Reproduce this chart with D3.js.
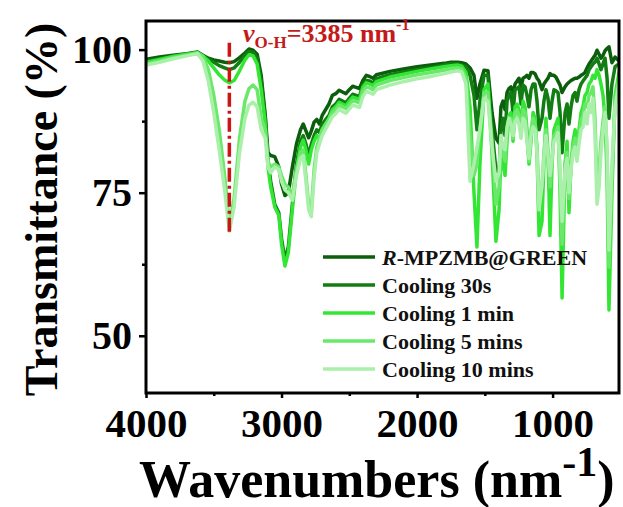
<!DOCTYPE html>
<html>
<head>
<meta charset="utf-8">
<script src="https://cdn.jsdelivr.net/npm/d3@7"></script>
<style>
  body { margin: 0; background: #fff; }
  svg { display: block; }
  text { font-family: "Liberation Serif", "Times New Roman", serif; font-weight: bold; }
</style>
</head>
<body>
<svg id="chart" width="623" height="507"></svg>
<script>
// FTIR spectra: shared wavenumber grid and transmittance (%) for each sample
const wavenumbers = [
  4000, 3900, 3800, 3700, 3620,
  3580, 3540, 3500, 3460, 3420, 3385, 3350, 3310, 3270, 3240, 3210, 3180, 3150,
  3120, 3100, 3080, 3050, 3020, 3000, 2975, 2950, 2920, 2890, 2860, 2840, 2820, 2800, 2780, 2760, 2740, 2720, 2700,
  2650, 2625, 2600, 2575, 2550, 2525, 2500, 2475, 2450, 2425, 2400, 2375, 2350, 2325, 2300, 2200, 2100, 2000, 1900, 1800, 1750, 1700, 1670,
  1639, 1609, 1580, 1558, 1536, 1506, 1477, 1447, 1418, 1395,
  1381, 1366, 1351, 1336, 1322, 1307, 1292, 1277, 1262, 1248, 1233, 1218, 1203, 1189, 1174, 1159, 1144, 1130, 1115, 1100,
  1078, 1064, 1049, 1034, 1019, 1004, 990, 975, 960, 945, 930, 908, 893, 879, 864, 849, 834, 820, 805, 790,
  776, 761, 746, 731, 716, 702, 687, 672, 657, 643, 628, 613, 598, 584, 562, 539, 510
];

const pristine = [
  98.3, 98.7, 99.0, 99.3, 99.6,
  99.0, 98.5, 98.2, 98.0, 97.8, 97.7, 97.9, 98.6, 99.4, 100.1, 99.9, 99.2, 95.5,
  88.5, 82.0, 81.5, 81.3, 79.5, 76.5, 74.5, 75.0, 79.5, 83.5, 86.0, 87.0, 85.8, 84.6, 85.8, 87.3, 87.8, 87.0, 88.5,
  90.5, 92.0, 92.3, 92.9, 92.6, 92.3, 93.0, 93.6, 93.4, 93.2, 94.6, 95.5, 95.3, 95.0, 95.6, 96.2, 96.6, 97.0, 97.3, 97.6, 97.8, 97.8, 97.7,
  97.5, 96.8, 95.5, 91.5, 94.0, 96.4, 96.3, 89.0, 84.5, 83.7,
  90.0, 91.0, 89.5, 92.5, 93.2, 93.5, 92.0, 94.0, 94.5, 95.0, 93.5, 95.0, 95.2, 95.5, 95.0, 96.0, 96.0, 95.8, 95.0, 94.5,
  93.0, 94.0, 94.5, 95.0, 95.8, 95.5, 95.5, 95.2, 94.5, 93.8, 92.5, 93.5, 94.0, 94.3, 94.6, 94.8, 95.0, 95.0, 95.2, 95.5,
  95.7, 96.0, 96.8, 97.5, 98.0, 98.5, 99.0, 99.9, 99.2, 98.5, 99.0, 99.8, 100.2, 100.5, 97.7, 98.7, 98.0
];

const cooling30s = [
  98.0, 98.4, 98.9, 99.2, 99.5,
  98.9, 98.3, 97.8, 97.2, 96.8, 96.5, 96.8, 97.8, 99.0, 99.7, 99.5, 98.5, 94.5,
  88.0, 80.5, 77.0, 73.0, 71.5, 67.0, 63.3, 65.5, 73.0, 80.0, 84.0, 85.0, 83.5, 81.5, 83.5, 85.0, 86.0, 85.5, 87.0,
  88.5, 90.0, 90.5, 91.3, 91.0, 90.7, 91.5, 92.2, 92.0, 91.8, 93.8, 94.6, 94.5, 94.2, 94.9, 95.6, 96.1, 96.5, 96.9, 97.3, 97.5, 97.5, 97.3,
  97.0, 95.5, 92.0, 86.0, 91.0, 95.5, 95.5, 86.0, 79.0, 78.5,
  86.0, 88.0, 85.0, 91.0, 92.0, 92.5, 89.0, 93.0, 93.2, 93.5, 90.5, 93.8, 93.5, 92.0, 90.0, 93.0, 94.0, 94.0, 91.0, 86.0,
  88.0, 91.0, 93.0, 91.5, 88.0, 91.0, 93.0, 92.8, 92.5, 89.0, 82.0, 89.0, 90.5, 87.0, 90.0, 92.0, 92.5, 91.0, 93.0, 94.0,
  94.5, 95.0, 95.5, 96.5, 97.0, 97.5, 97.8, 98.5, 97.5, 96.5, 97.5, 98.5, 95.0, 88.0, 94.0, 97.0, 97.5
];

const cooling1min = [
  97.8, 98.3, 98.8, 99.2, 99.5,
  98.9, 98.0, 96.8, 95.6, 94.7, 94.2, 94.6, 96.3, 98.2, 99.1, 98.9, 97.5, 93.0,
  87.0, 79.5, 76.0, 72.5, 71.0, 66.0, 62.2, 64.5, 72.0, 79.0, 83.0, 84.2, 82.5, 80.0, 82.5, 84.0, 85.0, 84.5, 86.0,
  88.0, 89.5, 90.0, 90.8, 90.5, 90.2, 91.0, 91.7, 91.5, 91.3, 93.4, 94.2, 94.0, 93.7, 94.4, 95.2, 95.7, 96.2, 96.6, 97.0, 97.2, 97.3, 97.1,
  96.0, 90.0, 75.0, 65.5, 80.0, 93.0, 94.0, 82.0, 66.5, 72.0,
  82.0, 80.0, 78.0, 84.0, 88.5, 89.0, 84.0, 90.0, 90.5, 89.5, 85.0, 91.0, 90.0, 86.0, 80.0, 84.0, 89.0, 88.0, 82.0, 67.5,
  70.0, 80.0, 88.0, 82.0, 67.5, 80.0, 86.0, 87.0, 88.0, 75.0, 56.6, 80.0, 84.0, 71.5, 80.0, 84.0, 86.0, 81.2, 86.0, 89.0,
  90.0, 92.0, 92.5, 94.0, 94.5, 95.5, 95.0, 96.5, 95.5, 94.0, 92.0, 88.0, 78.0, 54.5, 75.0, 92.0, 96.0
];

const cooling5min = [
  97.5, 98.0, 98.6, 99.0, 99.4,
  98.8, 96.5, 92.0, 86.0, 78.0, 69.5, 74.0, 84.5, 91.0, 93.2, 93.8, 93.0, 88.0,
  86.0, 80.5, 79.5, 80.0, 79.5, 78.0, 76.5, 76.0, 74.5, 79.0, 82.0, 82.5, 78.0, 73.0, 72.0, 79.0, 83.0, 84.5, 86.0,
  87.8, 89.0, 89.5, 90.3, 90.0, 89.7, 90.4, 91.1, 90.9, 90.7, 92.7, 93.5, 93.3, 93.0, 93.8, 94.6, 95.1, 95.6, 96.0, 96.4, 96.7, 96.8, 96.6,
  95.0, 85.0, 78.0, 80.0, 86.0, 92.5, 92.5, 84.0, 73.0, 76.0,
  84.0, 82.0, 80.5, 86.0, 88.0, 88.0, 84.5, 89.0, 89.5, 88.5, 85.5, 89.5, 89.0, 84.5, 80.5, 86.0, 88.0, 87.0, 83.0, 74.0,
  76.0, 82.0, 86.0, 81.0, 76.0, 81.0, 85.0, 85.5, 86.5, 78.0, 66.0, 80.0, 82.0, 74.0, 79.5, 83.0, 84.5, 82.0, 85.0, 87.5,
  88.5, 90.5, 90.0, 92.0, 92.5, 93.5, 88.0, 75.5, 79.0, 84.0, 87.5, 90.0, 82.0, 62.0, 78.0, 91.0, 95.0
];

const cooling10min = [
  97.3, 97.8, 98.4, 98.9, 99.3,
  98.0, 94.5, 89.0, 82.5, 75.5, 68.3, 72.5, 82.0, 88.0, 90.3, 90.8, 90.0, 86.0,
  84.5, 79.5, 78.5, 79.5, 79.0, 77.0, 75.5, 75.0, 73.7, 78.0, 81.0, 81.5, 77.0, 72.0, 70.8, 77.5, 82.0, 83.5, 85.0,
  87.2, 88.3, 88.8, 89.6, 89.2, 88.9, 89.6, 90.3, 90.1, 89.9, 91.8, 92.7, 92.5, 92.2, 93.0, 93.8, 94.4, 94.9, 95.3, 95.8, 96.1, 96.3, 96.1,
  94.0, 77.0, 80.0, 83.0, 86.0, 91.5, 91.0, 83.0, 77.0, 78.5,
  85.0, 83.0, 82.5, 86.5, 88.0, 87.0, 85.0, 87.5, 88.0, 87.0, 84.5, 88.0, 87.5, 84.0, 81.0, 85.0, 86.5, 86.0, 82.0, 72.0,
  76.5, 81.0, 85.0, 81.5, 78.0, 81.0, 84.0, 84.5, 85.5, 79.0, 70.0, 79.0, 81.0, 75.0, 79.0, 82.0, 83.0, 80.5, 83.5, 86.0,
  86.5, 89.0, 87.0, 90.5, 89.0, 91.5, 85.0, 73.0, 76.0, 82.0, 86.0, 89.0, 83.0, 65.0, 80.0, 90.0, 94.0
];

const seriesNames = ["R-MPZMB@GREEN", "Cooling 30s", "Cooling 1 min", "Cooling 5 mins", "Cooling 10 mins"];
const seriesValues = [pristine, cooling30s, cooling1min, cooling5min, cooling10min];
const seriesColors = ["#0b5e0b", "#127d12", "#33e633", "#6ae86a", "#aaf0aa"];

const xTicks = [4000, 3000, 2000, 1000];
const xMinorTicks = [3500, 2500, 1500];
const yTicks = [50, 75, 100];
const yMinorTicks = [62.5, 87.5];

// O-H stretching marker
const ohBand = 3385;
const ohLineSpan = [101.2, 68.0];

const svg = d3.select("#chart");
const plot = { left: 146, right: 619, top: 21, bottom: 393 };

const x = d3.scaleLinear().domain([4000, 510]).range([plot.left, plot.right]);
const y = d3.scaleLinear().domain([40, 105]).range([plot.bottom, plot.top]);

svg.append("defs").append("clipPath").attr("id", "plotClip")
  .append("rect")
  .attr("x", plot.left).attr("y", plot.top)
  .attr("width", plot.right - plot.left).attr("height", plot.bottom - plot.top);

// spectra
const line = d3.line()
  .x((d, i) => x(wavenumbers[i]))
  .y(d => y(d));

const curves = svg.append("g").attr("clip-path", "url(#plotClip)");
seriesValues.forEach((vals, k) => {
  curves.append("path")
    .datum(vals)
    .attr("d", line)
    .attr("fill", "none")
    .attr("stroke", seriesColors[k])
    .attr("stroke-width", 3.5)
    .attr("stroke-linejoin", "round")
    .attr("stroke-linecap", "round");
});

// O-H marker line
svg.append("line")
  .attr("x1", x(ohBand)).attr("x2", x(ohBand))
  .attr("y1", y(ohLineSpan[0])).attr("y2", y(ohLineSpan[1]))
  .attr("stroke", "#cc1414")
  .attr("stroke-width", 3.5)
  .attr("stroke-dasharray", "14,4,3,4");

// axes
function styleAxis(g) {
  g.select(".domain").remove();
  g.selectAll(".tick line").attr("stroke", "#000").attr("stroke-width", 2.5);
  g.selectAll(".tick text").attr("fill", "#000");
}

svg.append("g")
  .attr("transform", `translate(0,${plot.bottom})`)
  .call(d3.axisBottom(x).tickValues(xTicks).tickSize(5).tickPadding(10).tickFormat(d3.format("d")))
  .call(styleAxis)
  .call(g => g.selectAll(".tick text").attr("font-size", 41).attr("font-family", null));

svg.append("g")
  .attr("transform", `translate(0,${plot.bottom})`)
  .call(d3.axisBottom(x).tickValues(xMinorTicks).tickSize(3).tickFormat(""))
  .call(styleAxis);

svg.append("g")
  .attr("transform", `translate(${plot.left},0)`)
  .call(d3.axisLeft(y).tickValues(yTicks).tickSize(7).tickPadding(7).tickFormat(d3.format("d")))
  .call(styleAxis)
  .call(g => g.selectAll(".tick text").attr("font-size", 40).attr("font-family", null).attr("dy", "0.33em"));

svg.append("g")
  .attr("transform", `translate(${plot.left},0)`)
  .call(d3.axisLeft(y).tickValues(yMinorTicks).tickSize(4).tickFormat(""))
  .call(styleAxis);

// frame
svg.append("rect")
  .attr("x", plot.left).attr("y", plot.top)
  .attr("width", plot.right - plot.left).attr("height", plot.bottom - plot.top)
  .attr("fill", "none").attr("stroke", "#000").attr("stroke-width", 3);

// axis titles
svg.append("text")
  .attr("transform", `translate(57,${(plot.top + 398) / 2}) rotate(-90)`)
  .attr("text-anchor", "middle")
  .attr("font-size", 46)
  .text("Transmittance (%)");

const xTitle = svg.append("text")
  .attr("x", 139).attr("y", 497)
  .attr("font-size", 52);
xTitle.append("tspan").text("Wavenumbers (nm");
xTitle.append("tspan").attr("font-size", 42).attr("dy", -21).text("-1");
xTitle.append("tspan").attr("dy", 21).text(")");

// annotation
const ann = svg.append("text")
  .attr("x", 243).attr("y", 42)
  .attr("fill", "#c41a1a")
  .attr("font-size", 26);
ann.append("tspan").attr("font-style", "italic").text("ν");
ann.append("tspan").attr("font-size", 17).attr("dy", 6).text("O-H");
ann.append("tspan").attr("dy", -6).text("=3385 nm");
ann.append("tspan").attr("font-size", 16).attr("dy", -12).text("-1");

// legend
const legend = svg.append("g");
seriesNames.forEach((name, k) => {
  const ry = 257 + k * 28;
  legend.append("line")
    .attr("x1", 323).attr("x2", 375).attr("y1", ry).attr("y2", ry)
    .attr("stroke", seriesColors[k]).attr("stroke-width", 3.5);
  const t = legend.append("text")
    .attr("x", 382).attr("y", ry).attr("dy", "0.35em")
    .attr("font-size", 22).attr("fill", "#111");
  if (k === 0) {
    t.append("tspan").attr("font-style", "italic").text(name.slice(0, 1));
    t.append("tspan").text(name.slice(1));
  } else {
    t.text(name);
  }
});
</script>
</body>
</html>
